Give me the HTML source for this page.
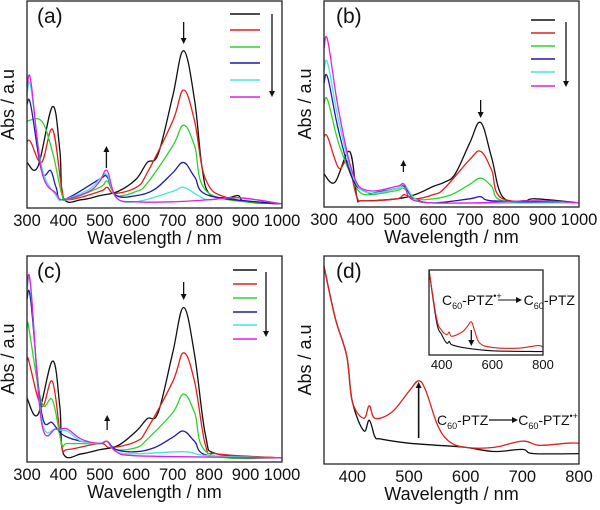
<!DOCTYPE html>
<html><head><meta charset="utf-8"><style>
html,body{margin:0;padding:0;background:#fff}
svg{display:block;font-family:"Liberation Sans",sans-serif}
</style></head><body>
<svg id="fig" width="600" height="510" viewBox="0 0 600 510" xmlns="http://www.w3.org/2000/svg"></svg>
<script>
// ---- data (absorbance, arbitrary units: 0 = bottom of axis, 100 = top) ----
const aWl = {
 black:[300,330,370,390,400,450,500,550,600,630,660,700,730,760,780,800,850,880,900,1000],
 red:[300,310,340,370,395,410,500,520,540,600,630,700,730,760,790,850,1000],
 green:[300,340,370,395,410,500,520,545,600,630,700,730,760,800,1000],
 blue:[300,310,340,365,380,400,500,520,545,600,650,700,730,760,800,1000],
 cyan:[300,310,340,380,400,470,500,520,545,600,700,730,770,800,880,1000],
 magenta:[300,310,340,380,400,470,500,520,545,600,700,800,880,1000]
};
const aAbs = {
 black:[22,20,49,28,5,4,6,8,14,22,26,54,76,52,20,7,5,6,3,2],
 red:[32,32,22,38,10,4,8,10,7,10,17,42,57,42,14,5,2],
 green:[42,42,27,7,4,10,13,6,8,12,30,40,30,7,2],
 blue:[50,50,18,18,10,4,14,15,6,6,9,17,22,15,6,2],
 cyan:[54,59,20,6,4,9,14,16,5,3,8,10,6,4,5,2],
 magenta:[57,62,18,7,4,8,13,18,5,3,3,4,5,2]
};
const bWl = {
 black:[300,330,370,390,400,500,550,600,630,660,700,730,760,790,850,880,1000],
 red:[300,310,340,365,390,410,500,520,550,600,630,700,730,760,790,1000],
 green:[300,310,340,380,400,430,500,520,550,600,650,700,730,760,790,1000],
 blue:[300,310,340,380,420,440,500,520,550,600,700,730,760,1000],
 cyan:[300,310,340,380,420,500,520,550,600,1000],
 magenta:[300,310,340,380,420,500,520,550,700,880,1000]
};
const bAbs = {
 black:[16,12,27,5,3,4,6,10,12,16,31,41,24,5,3,4,2],
 red:[34,34,19,22,5,3,4,6,4,6,9,23,27,18,4,2],
 green:[50,52,31,13,7,6,8,9,4,4,6,11,14,10,3,2],
 blue:[60,63,37,13,7,7,9,10,4,2,4,5,3,2],
 cyan:[66,70,42,15,7,9,11,4,2,2],
 magenta:[77,81,47,16,8,10,11,3,2,3,2]
};
const cWl = {
 black:[300,330,370,390,400,450,500,550,600,630,660,700,730,760,790,820,1000],
 red:[300,305,340,370,395,410,500,530,600,630,700,730,760,790,820,1000],
 green:[300,305,340,370,395,410,500,520,545,600,630,700,730,760,800,1000],
 blue:[300,310,340,370,400,450,500,520,545,600,650,700,730,760,800,1000],
 cyan:[300,310,340,380,410,450,500,520,545,600,730,800,1000],
 magenta:[300,310,340,380,410,450,500,520,545,600,1000]
};
const cAbs = {
 black:[31,23,49,27,4,4,6,8,15,21,24,53,75,52,13,4,2],
 red:[49,49,27,39,8,6,9,7,10,16,39,53,39,8,4,2],
 green:[65,65,29,30,9,9,9,10,6,7,11,24,33,24,4,2],
 blue:[79,79,24,19,13,10,9,10,6,5,7,12,15,10,3,2],
 cyan:[83,85,21,16,15,10,9,10,5,4,5,3,2],
 magenta:[85,86,19,16,16,11,9,10,5,3,2]
};
const dWl = {
 black:[350,370,390,400,420,430,440,450,500,550,600,650,700,720,800],
 red:[350,370,390,400,420,430,440,470,500,517,530,550,570,600,650,700,730,780,800]
};
const dAbs = {
 black:[95,70,52,30,16,21,13,12,10,9,8,6,7,5,5],
 red:[95,70,52,30,22,28,22,25,35,40,35,19,11,8,8,11,9,10,10]
};
const insWl = {
 black:[350,380,400,420,430,440,500,600,800],
 red:[350,380,400,420,430,440,480,500,517,530,550,600,700,780,800]
};
const insAbs = {
 black:[100,39,24,14,16,12,8,5,4],
 red:[100,43,29,24,27,22,27,33,39,29,14,9,8,11,9]
};
const seriesNames = ['black','red','green','blue','cyan','magenta'];
const colors = {black:'#111',red:'#e0201c',green:'#2ed42e',blue:'#1c1ca8',cyan:'#44e4e4',magenta:'#e020e0'};
const ticks4 = [300,400,500,600,700,800,900,1000];
const ticksD = [400,500,600,700,800];
const ticksIns = [400,600,800];

const NS='http://www.w3.org/2000/svg';
const svg=document.getElementById('fig');
function mk(tag,attrs,parent){const e=document.createElementNS(NS,tag);for(const k in attrs)e.setAttribute(k,attrs[k]);(parent||svg).appendChild(e);return e;}
function txt(x,y,s,size,parent,anchor){const t=mk('text',{x:x,y:y,'font-size':size,'text-anchor':anchor||'middle',fill:'#111'},parent);t.textContent=s;return t;}
function smoothPath(P){
  let d='M'+P[0][0].toFixed(1)+','+P[0][1].toFixed(1);
  for(let i=0;i<P.length-1;i++){
    const p0=P[Math.max(0,i-1)],p1=P[i],p2=P[i+1],p3=P[Math.min(P.length-1,i+2)];
    const t=0.18;
    const c1=[p1[0]+(p2[0]-p0[0])*t,p1[1]+(p2[1]-p0[1])*t];
    const c2=[p2[0]-(p3[0]-p1[0])*t,p2[1]-(p3[1]-p1[1])*t];
    c1[0]=Math.min(Math.max(c1[0],p1[0]),p2[0]);c2[0]=Math.min(Math.max(c2[0],p1[0]),p2[0]);
    d+=` C${c1[0].toFixed(1)},${c1[1].toFixed(1)} ${c2[0].toFixed(1)},${c2[1].toFixed(1)} ${p2[0].toFixed(1)},${p2[1].toFixed(1)}`;
  }
  return d;
}

function panel(id,box,xmin,xmax,ymax,wl,abs,names,ticks,opts){
  const g=mk('g',{});
  
  
  const sx=v=>box.x+(v-xmin)/(xmax-xmin)*box.w;
  const sy=v=>box.y+box.h-(v/ymax)*box.h;
  names.forEach(n=>{
    const P=wl[n].map((w,i)=>[sx(w),sy(abs[n][i])]);
    const p=mk('path',{d:smoothPath(P),fill:'none',stroke:colors[n],'stroke-width':opts.sw||1.3,'stroke-linejoin':'round'},g);
    
    
  });
  const fr=mk('rect',{x:box.x,y:box.y,width:box.w,height:box.h,fill:'none',stroke:'#222','stroke-width':1.3},g);
  
  
  ticks.forEach(t=>{
    const l=txt(sx(t),box.y+box.h+(opts.tickDy||18),String(t),opts.tickSize||16.5,g);
    
    
  });
  return {g,sx,sy};
}
function arrow(x,y1,y2,name,w){
  const dir=y2>y1?1:-1;
  const l=mk('line',{x1:x,y1:y1,x2:x,y2:y2-dir*5,stroke:'#111','stroke-width':w||1.3});
  
  
  const h=mk('polygon',{points:`${x-3},${y2-dir*6} ${x+3},${y2-dir*6} ${x},${y2}`,fill:'#111'});
  
  
}
function legend(id,x1,x2,ys,ax,ay1,ay2){
  seriesNames.forEach((n,i)=>{
    const l=mk('line',{x1:x1,x2:x2,y1:ys[i],y2:ys[i],stroke:colors[n],'stroke-width':1.5});
    
    
  });
  arrow(ax,ay1,ay2,'legend-arrow-'+id);
}
function labels(id,box,lx,ly,letter){
  const t=txt(lx,ly,letter,21,null,'start');
  
  
  const xl=txt(box.x+box.w/2,box.y+box.h+36,'Wavelength / nm',18);
  
  
  const cy=box.y+box.h/2;
  const yl=mk('text',{x:box.x-13,y:cy,'font-size':18,'text-anchor':'middle',fill:'#111',transform:`rotate(-90 ${box.x-13} ${cy})`});
  yl.textContent='Abs / a.u';
  
  
}

// panel a
const boxA={x:27,y:1,w:255,h:207};
const pa=panel('a',boxA,300,1000,100,aWl,aAbs,seriesNames,ticks4,{});
labels('a',boxA,37,23,'(a)');
legend('a',230,260,[14,30,47,63,80,97],272,14,97);
arrow(pa.sx(730),22,44,'arrow-down-730-a');
arrow(pa.sx(518),168,146,'arrow-up-518-a');

// panel b
const boxB={x:324,y:1,w:255,h:206};
const pb=panel('b',boxB,300,1000,100,bWl,bAbs,seriesNames,ticks4,{});
labels('b',boxB,336,23,'(b)');
legend('b',531,555,[20,33,46,59,72,86],566,22,87);
arrow(pb.sx(730),100,118,'arrow-down-730-b');
arrow(pb.sx(518),172,160,'arrow-up-518-b');

// panel c
const boxC={x:27,y:256,w:255,h:206};
const pc=panel('c',boxC,300,1000,100,cWl,cAbs,seriesNames,ticks4,{});
labels('c',boxC,37,278,'(c)');
legend('c',233,257,[270,284,298,312,325,339],266,272,337);
arrow(pc.sx(730),282,300,'arrow-down-730-c');
arrow(pc.sx(520),430,415,'arrow-up-520-c');

// panel d
const boxD={x:324,y:256,w:255,h:208};
const pd=panel('d',boxD,350,800,100,dWl,dAbs,['black','red'],ticksD,{});
labels('d',boxD,336,278,'(d)');
arrow(pd.sx(517),438,382,'arrow-up-517-d',1.6);
const t1=mk('text',{x:437,y:425,'font-size':14,fill:'#111'});
t1.innerHTML='C<tspan font-size="9" dy="4">60</tspan><tspan dy="-4">-PTZ</tspan><tspan dx="30">C</tspan><tspan font-size="9" dy="4">60</tspan><tspan dy="-4">-PTZ</tspan><tspan font-size="9" dy="-6">•+</tspan>';


const fa=mk('line',{x1:489,y1:420,x2:514,y2:420,stroke:'#111','stroke-width':1.2});


mk('polygon',{points:'512,417 518,420 512,423',fill:'#111'});

// inset
const boxI={x:429,y:270,w:114,h:85};
const pi=panel('inset',boxI,350,800,100,insWl,insAbs,['black','red'],ticksIns,{tickSize:13,tickDy:14,sw:1.1});
arrow(pi.sx(517),330,346,'arrow-down-517-inset');
const t2=mk('text',{x:442,y:305,'font-size':14,fill:'#111'});
t2.innerHTML='C<tspan font-size="9" dy="4">60</tspan><tspan dy="-4">-PTZ</tspan><tspan font-size="9" dy="-6">•+</tspan><tspan dy="6" dx="22">C</tspan><tspan font-size="9" dy="4">60</tspan><tspan dy="-4">-PTZ</tspan>';


const ra=mk('line',{x1:498,y1:300,x2:518,y2:300,stroke:'#111','stroke-width':1});


mk('polygon',{points:'516,297 522,300 516,303',fill:'#111'});
</script>
</body></html>
